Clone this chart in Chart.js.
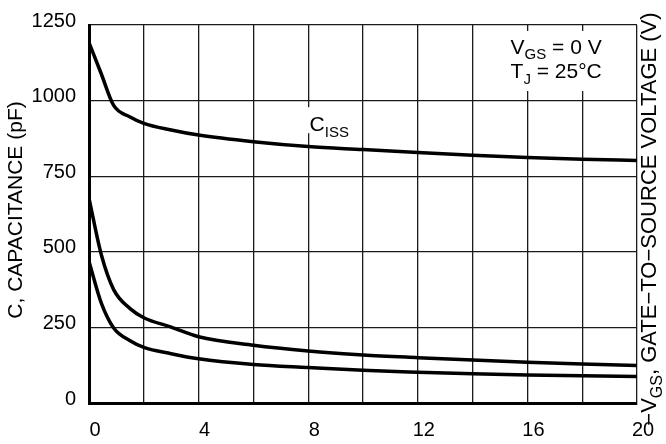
<!DOCTYPE html>
<html>
<head>
<meta charset="utf-8">
<script src="https://cdn.jsdelivr.net/npm/chart.js@4.4.1/dist/chart.umd.min.js"></script>
<style>
html,body{margin:0;padding:0;background:#fff;}
#wrap{width:666px;height:444px;position:relative;}
</style>
</head>
<body>
<div id="wrap"><canvas id="c" width="666" height="444"></canvas></div>
<script>
// Drain-source voltage (V)
const vds = [0, 0.45, 0.9, 1.5, 2, 3, 4, 6, 8, 10, 12, 14, 16, 18, 20];
// Capacitances (pF)
const ciss = [1192, 1088, 984, 946, 925, 903, 886, 864, 848, 838, 828, 819, 812, 806, 802];
const coss = [677, 490, 375, 312, 282, 251, 219, 191, 172, 159, 150, 142, 135, 129, 124];
const crss = [468, 330, 248, 206, 184, 163, 146, 127, 117, 108, 102, 97, 93, 90, 88];
const yTicks = [0, 250, 500, 750, 1000, 1250];
const xLabelTicks = [0, 4, 8, 12, 16, 20];

const FONT = "'Liberation Sans', Arial, Helvetica, sans-serif";

function pts(ys){ return vds.map((x,i)=>({x:x, y:ys[i]})); }

function drawSub(ctx, parts, x, y, size, align){
  const subSize = Math.round(size*0.72);
  let total = 0;
  parts.forEach(p=>{ ctx.font = (p[1]?subSize:size)+"px "+FONT; total += ctx.measureText(p[0]).width; });
  let cx = align==='center' ? x-total/2 : (align==='right'? x-total : x);
  ctx.textAlign='left'; ctx.textBaseline='alphabetic';
  parts.forEach(p=>{
    ctx.font = (p[1]?subSize:size)+"px "+FONT;
    ctx.fillText(p[0], cx, p[1]? y+size*0.28 : y);
    cx += ctx.measureText(p[0]).width;
  });
  return total;
}

const annot = {
  id:'annot',
  beforeDatasetsDraw(chart){
    const ctx = chart.ctx, xs = chart.scales.x, ys = chart.scales.y;
    ctx.save();
    ctx.fillStyle='#fff';
    const bx = xs.getPixelForValue(17.05);
    ctx.fillRect(bx-66, chart.chartArea.top+6, 132, 60);
    const lx = xs.getPixelForValue(8.05), ly = ys.getPixelForValue(922);
    ctx.fillRect(lx-3, ly-17, 50, 26);
    ctx.restore();
  },
  afterDatasetsDraw(chart){
    const ctx = chart.ctx, xs = chart.scales.x, ys = chart.scales.y;
    ctx.save();
    ctx.fillStyle='#000';
    const bx = xs.getPixelForValue(17.05);
    drawSub(ctx, [['V',0],['GS',1],[' = 0 V',0]], bx, ys.getPixelForValue(1182)+8, 21, 'center');
    drawSub(ctx, [['T',0],['J',1],[' = 25°C',0]], bx, ys.getPixelForValue(1102)+8, 21, 'center');
    const lx = xs.getPixelForValue(8.05), ly = ys.getPixelForValue(922);
    drawSub(ctx, [['C',0],['ISS',1]], lx, ly+7, 21, 'left');
    ctx.restore();
  },
  afterDraw(chart){
    const ctx = chart.ctx, ca = chart.chartArea;
    ctx.save();
    ctx.fillStyle='#000';
    ctx.translate(16, (ca.top+ca.bottom)/2 - 4);
    ctx.rotate(-Math.PI/2);
    ctx.font = "21px "+FONT;
    ctx.textAlign='center'; ctx.textBaseline='middle';
    ctx.fillText('C, CAPACITANCE (pF)', 0, 0);
    ctx.restore();
    ctx.save();
    ctx.fillStyle='#000';
    ctx.translate(656, 219);
    ctx.rotate(-Math.PI/2);
    drawSub(ctx, [['\u2212V',0],['GS',1],[', GATE\u2212TO\u2212SOURCE VOLTAGE (V)',0]], 0, 0, 22, 'center');
    ctx.restore();
  }
};

new Chart(document.getElementById('c'), {
  type:'line',
  data:{
    datasets:[
      {label:'Ciss', data:pts(ciss)},
      {label:'Coss', data:pts(coss)},
      {label:'Crss', data:pts(crss)}
    ].map(d=>Object.assign(d,{borderColor:'#000', borderWidth:3.5, pointRadius:0, fill:false, cubicInterpolationMode:'monotone'}))
  },
  options:{
    responsive:false, animation:false,
    layout:{padding:{left:0,right:29,top:19,bottom:0}},
    plugins:{legend:{display:false}, tooltip:{enabled:false}},
    scales:{
      x:{
        type:'linear', min:0, max:20,
        afterFit(s){ s.height = 41; },
        ticks:{stepSize:2, autoSkip:false, maxRotation:0, padding:15, labelOffset:6, color:'#000',
          font:{family:FONT, size:20},
          callback:(v)=> xLabelTicks.includes(v) ? String(v) : ''},
        grid:{color:'#1a1a1a', lineWidth:1.3, drawTicks:false},
        border:{color:'#000', width:3}
      },
      y:{
        type:'linear', min:0, max:1250,
        afterFit(s){ s.width = 89; },
        afterBuildTicks(s){ s.ticks = yTicks.map(v=>({value:v})); },
        ticks:{padding:13, labelOffset:-4, color:'#000', font:{family:FONT, size:20},
          callback:(v)=> String(v)},
        grid:{color:'#1a1a1a', lineWidth:1.3, drawTicks:false},
        border:{color:'#000', width:3}
      }
    }
  },
  plugins:[annot]
});
</script>
</body>
</html>
